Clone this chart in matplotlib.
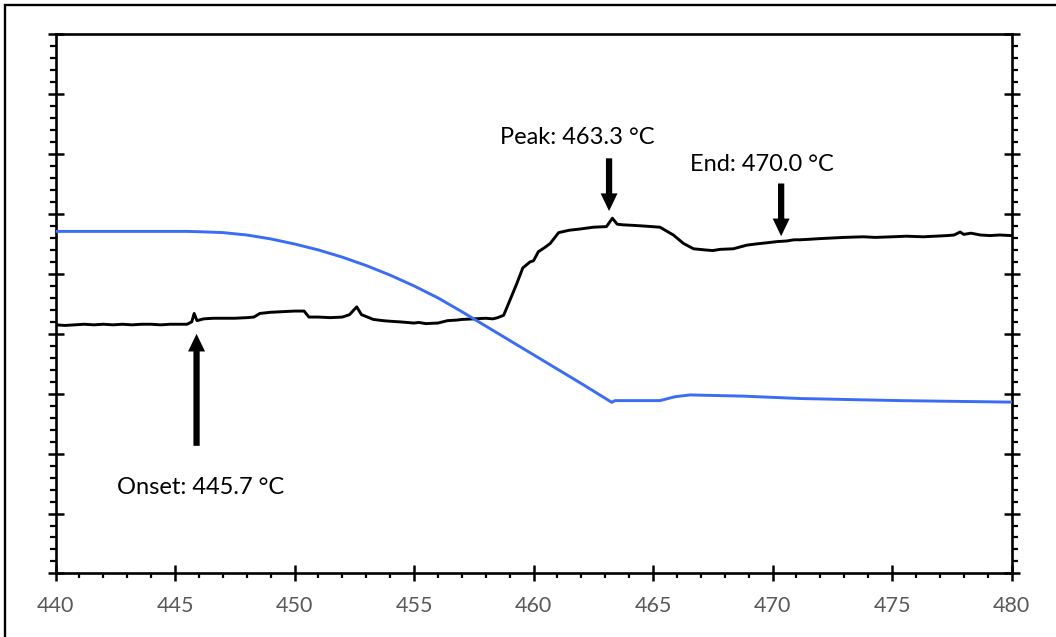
import matplotlib
matplotlib.use("Agg")
import matplotlib.pyplot as plt
from matplotlib.patches import Rectangle
from matplotlib.ticker import MultipleLocator, NullFormatter

plt.rcParams['font.family'] = ['Lato', 'DejaVu Sans']

# black trace (heat flow, arbitrary units)
black_x = [440.0, 440.4, 440.8, 441.2, 441.6, 442.0, 442.4, 442.8, 443.2, 443.6,
           444.0, 444.4, 444.8, 445.2, 445.5, 445.7, 445.8, 445.92, 446.2, 446.6,
           447.0, 447.5, 448.0, 448.3, 448.55, 449.0, 449.5, 450.0, 450.4, 450.6,
           451.0, 451.5, 452.0, 452.3, 452.6, 452.8, 453.3, 453.7, 454.0, 454.4,
           454.7, 455.0, 455.2, 455.5, 455.7, 456.0, 456.4, 456.8, 457.0, 457.5,
           458.0, 458.3, 458.5, 458.75, 459.0, 459.3, 459.55, 459.7, 459.85, 460.0,
           460.2, 460.5, 460.7, 461.05, 461.5, 461.95, 462.5, 463.05, 463.3, 463.5,
           463.74, 464.2, 464.6, 465.29, 465.85, 466.27, 466.69, 467.2, 467.5, 467.8,
           468.36, 468.92, 469.3, 469.76, 470.2, 470.59, 470.9, 471.15, 471.6, 472.0,
           472.5, 473.0, 473.8, 474.3, 475.0, 475.6, 476.3, 476.8, 477.3, 477.6,
           477.85, 478.0, 478.3, 478.7, 479.1, 479.5, 480.0]
black_y = [4.15, 4.14, 4.15, 4.16, 4.15, 4.16, 4.15, 4.16, 4.15, 4.16,
           4.16, 4.15, 4.16, 4.16, 4.16, 4.20, 4.34, 4.22, 4.25, 4.26,
           4.26, 4.26, 4.27, 4.28, 4.34, 4.36, 4.37, 4.38, 4.38, 4.28,
           4.28, 4.27, 4.28, 4.32, 4.45, 4.32, 4.24, 4.22, 4.21, 4.20,
           4.19, 4.18, 4.19, 4.17, 4.175, 4.18, 4.22, 4.23, 4.24, 4.25,
           4.26, 4.25, 4.27, 4.31, 4.55, 4.84, 5.10, 5.15, 5.20, 5.22,
           5.37, 5.45, 5.51, 5.69, 5.73, 5.75, 5.78, 5.79, 5.93, 5.83,
           5.82, 5.81, 5.80, 5.78, 5.65, 5.51, 5.42, 5.40, 5.39, 5.41,
           5.42, 5.48, 5.50, 5.52, 5.54, 5.55, 5.57, 5.57, 5.58, 5.59,
           5.60, 5.61, 5.62, 5.61, 5.62, 5.63, 5.62, 5.63, 5.64, 5.65,
           5.70, 5.66, 5.68, 5.65, 5.64, 5.65, 5.64]

# blue trace
blue_x = [440.0, 443.0, 445.5, 446.0, 447.0, 448.0, 449.0, 450.0, 451.0, 452.0,
          453.0, 454.0, 455.0, 456.0, 457.0, 458.0, 459.0, 460.0, 461.0, 462.0,
          463.27, 463.41, 465.29, 465.92, 466.55, 468.77, 471.15, 475.34, 480.0]
blue_y = [5.71, 5.71, 5.71, 5.705, 5.69, 5.65, 5.585, 5.50, 5.40, 5.28,
          5.14, 4.98, 4.80, 4.60, 4.37, 4.13, 3.89, 3.65, 3.41, 3.17,
          2.857, 2.885, 2.885, 2.95, 2.98, 2.96, 2.92, 2.885, 2.86]

# annotations: label, text position, arrow tail, arrow tip
labels = ["Onset: 445.7 °C", "Peak: 463.3 °C", "End: 470.0 °C"]
label_pos = [(446.05, 1.43), (461.85, 7.27), (469.54, 6.82)]
arrow_tail = [(445.9, 2.13), (463.16, 6.93), (470.36, 6.51)]
arrow_tip = [(445.9, 4.0), (463.16, 6.05), (470.36, 5.63)]

fig = plt.figure(figsize=(10.56, 6.37), dpi=100)
ax = fig.add_axes([0.0526, 0.0998, 0.9053, 0.8463])

ax.plot(black_x, black_y, color="black", lw=2.1, zorder=3)
ax.plot(blue_x, blue_y, color="#3a6cf4", lw=2.1, zorder=4)

for txt, pos, tail, tip in zip(labels, label_pos, arrow_tail, arrow_tip):
    ax.text(pos[0], pos[1], txt, ha="center", va="center", fontsize=17, color="black")
    ax.annotate("", xy=tip, xytext=tail,
                arrowprops=dict(arrowstyle="simple,head_length=1.27,head_width=1.22,tail_width=0.45",
                                fc="black", ec="none", shrinkA=0, shrinkB=0,
                                mutation_scale=10))

ax.set_xlim(440, 480)
ax.set_ylim(0, 9)

for s in ax.spines.values():
    s.set_linewidth(1.9)

ax.xaxis.set_major_locator(MultipleLocator(5))
ax.xaxis.set_minor_locator(MultipleLocator(1))
ax.yaxis.set_major_locator(MultipleLocator(1))
ax.yaxis.set_minor_locator(MultipleLocator(0.2))
ax.yaxis.set_major_formatter(NullFormatter())

ax.tick_params(axis="x", which="major", direction="inout", length=11, width=1.8,
               labelsize=15.5, labelcolor="#595959", pad=11)
ax.tick_params(axis="x", which="minor", direction="out", length=3.8, width=1.6)
ax.tick_params(axis="y", which="both", left=True, right=True, labelleft=False)
ax.tick_params(axis="y", which="major", direction="inout", length=11.5, width=1.8)
ax.tick_params(axis="y", which="minor", direction="out", length=4.3, width=1.6)

# outer frame around the whole chart
fig.add_artist(Rectangle((5 / 1056, -0.05), 1.2, 0.9921 + 0.05, transform=fig.transFigure,
                         fill=False, ec="black", lw=1.7))

fig.savefig("out.png", dpi=100)
